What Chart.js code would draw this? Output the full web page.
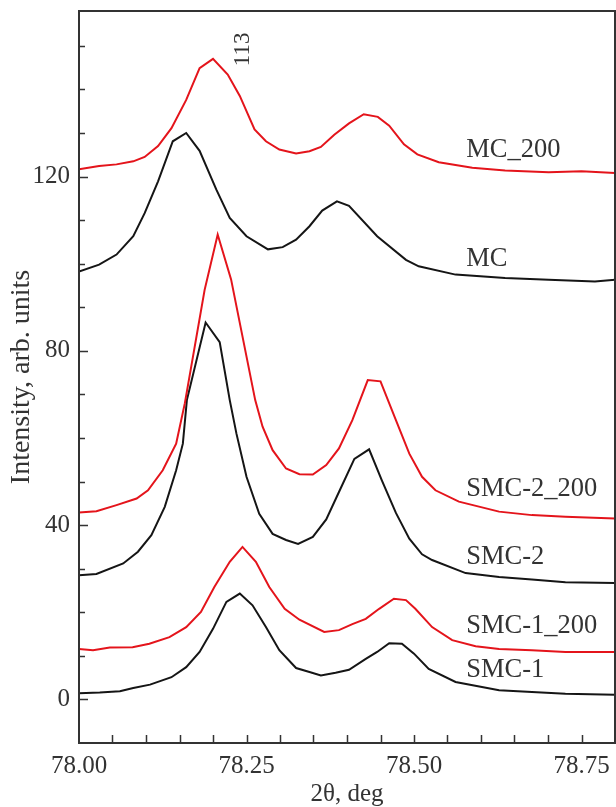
<!DOCTYPE html>
<html>
<head>
<meta charset="utf-8">
<script src="https://cdn.jsdelivr.net/npm/chart.js@4"></script>
<style>
  html, body { margin: 0; padding: 0; background: #fff; }
  canvas { display: block; }
</style>
</head>
<body>
<canvas id="xrdChart" width="616" height="807"></canvas>
<script>
// 2theta / intensity readings for each pattern
const mc200X = [78.00, 78.03, 78.056, 78.081, 78.098, 78.118, 78.138, 78.160, 78.180, 78.200, 78.222, 78.240, 78.262, 78.279, 78.299, 78.324, 78.344, 78.361, 78.381, 78.403, 78.425, 78.446, 78.463, 78.485, 78.505, 78.537, 78.587, 78.636, 78.701, 78.750, 78.80];
const mc200Y = [121.7, 122.4, 122.8, 123.5, 124.5, 127.0, 131.1, 137.6, 144.9, 147.0, 143.4, 138.5, 130.8, 128.1, 126.2, 125.3, 125.8, 126.8, 129.6, 132.2, 134.3, 133.7, 131.7, 127.4, 125.1, 123.3, 122.0, 121.4, 121.0, 121.2, 120.8];

const mcX = [78.00, 78.03, 78.056, 78.081, 78.098, 78.118, 78.140, 78.160, 78.180, 78.205, 78.225, 78.250, 78.282, 78.304, 78.324, 78.344, 78.363, 78.385, 78.403, 78.445, 78.488, 78.507, 78.562, 78.636, 78.701, 78.770, 78.80];
const mcY = [98.2, 99.8, 102.1, 106.3, 111.6, 118.9, 128.1, 130.0, 125.9, 117.0, 110.5, 106.3, 103.3, 103.8, 105.5, 108.6, 112.2, 114.3, 113.3, 106.3, 100.9, 99.4, 97.5, 96.7, 96.3, 95.9, 96.3];

const smc2200X = [78.00, 78.026, 78.056, 78.086, 78.103, 78.125, 78.145, 78.158, 78.1875, 78.207, 78.227, 78.263, 78.274, 78.289, 78.309, 78.329, 78.349, 78.369, 78.388, 78.408, 78.431, 78.450, 78.473, 78.493, 78.512, 78.532, 78.567, 78.627, 78.676, 78.726, 78.80];
const smc2200Y = [42.9, 43.2, 44.6, 46.1, 48.0, 52.6, 58.7, 68.0, 94.0, 106.7, 96.4, 68.7, 62.6, 57.2, 53.0, 51.7, 51.6, 53.8, 57.6, 64.1, 73.3, 73.0, 64.1, 56.4, 51.1, 48.0, 45.4, 43.1, 42.3, 41.9, 41.5];

const smc2X = [78.00, 78.026, 78.066, 78.088, 78.108, 78.128, 78.145, 78.155, 78.161, 78.189, 78.210, 78.225, 78.235, 78.250, 78.269, 78.289, 78.309, 78.327, 78.349, 78.369, 78.388, 78.411, 78.433, 78.452, 78.473, 78.493, 78.512, 78.527, 78.577, 78.627, 78.676, 78.726, 78.80];
const smc2Y = [28.5, 28.8, 31.2, 33.9, 37.7, 44.2, 52.6, 58.7, 68.7, 86.5, 82.0, 68.7, 61.0, 51.1, 42.6, 38.0, 36.6, 35.7, 37.3, 41.3, 47.6, 55.2, 57.4, 50.3, 42.8, 36.9, 33.3, 32.0, 29.0, 28.1, 27.5, 26.9, 26.7];

const smc1200X = [78.00, 78.021, 78.046, 78.080, 78.105, 78.135, 78.160, 78.182, 78.202, 78.225, 78.244, 78.264, 78.284, 78.307, 78.329, 78.366, 78.388, 78.408, 78.428, 78.448, 78.470, 78.488, 78.502, 78.527, 78.557, 78.592, 78.627, 78.676, 78.726, 78.80];
const smc1200Y = [11.6, 11.3, 11.9, 12.0, 12.8, 14.3, 16.6, 20.1, 25.8, 31.6, 35.0, 31.6, 25.8, 20.8, 18.3, 15.5, 15.9, 17.3, 18.5, 20.8, 23.1, 22.8, 20.8, 16.6, 13.6, 12.2, 11.6, 11.3, 10.9, 10.9];

const smc1X = [78.00, 78.031, 78.061, 78.081, 78.106, 78.138, 78.160, 78.180, 78.200, 78.220, 78.240, 78.259, 78.279, 78.299, 78.324, 78.344, 78.361, 78.383, 78.403, 78.428, 78.445, 78.463, 78.482, 78.500, 78.522, 78.562, 78.627, 78.676, 78.726, 78.80];
const smc1Y = [1.4, 1.6, 1.9, 2.6, 3.4, 5.1, 7.4, 10.9, 16.2, 22.4, 24.3, 21.6, 16.6, 11.3, 7.2, 6.3, 5.5, 6.1, 6.8, 9.3, 10.9, 12.9, 12.8, 10.5, 7.0, 4.0, 2.1, 1.7, 1.3, 1.1];

// curve labels (left edge x, baseline y in data units)
const seriesNames = ["MC_200", "MC", "SMC-2_200", "SMC-2", "SMC-1_200", "SMC-1"];
const labelX = 78.578;
const labelY = [124.5, 99.5, 46.7, 31.0, 15.2, 5.1];
const peakLabel = { text: "113", x: 78.244, y: 149.2 };

const RED = "#e4141b";
const BLACK = "#151515";
const INK = "#333333";
const FONT = "'Liberation Serif', 'Times New Roman', serif";

function toPoints(xs, ys) {
  return xs.map((x, i) => ({ x, y: ys[i] }));
}

function lineDataset(label, xs, ys, color) {
  return {
    label,
    data: toPoints(xs, ys),
    borderColor: color,
    backgroundColor: color,
    borderWidth: 2,
    pointRadius: 0,
    showLine: true,
    fill: false,
    tension: 0,
  };
}

const isMultiple = (v, step) => Math.abs(v / step - Math.round(v / step)) < 1e-6;

// frame box + inward tick marks + curve labels
const framePlugin = {
  id: "frame",
  afterDraw(chart) {
    const { ctx, chartArea: a, scales } = chart;
    const xs = scales.x, ys = scales.y;
    ctx.save();
    ctx.strokeStyle = INK;
    ctx.lineWidth = 2;
    ctx.strokeRect(a.left, a.top, a.right - a.left, a.bottom - a.top);

    ctx.lineWidth = 1.5;
    ctx.beginPath();
    xs.ticks.forEach((t) => {
      const px = Math.round(xs.getPixelForValue(t.value)) + 0.5;
      if (px <= a.left + 1 || px >= a.right - 1) return;
      ctx.moveTo(px, a.bottom);
      ctx.lineTo(px, a.bottom - 8);
    });
    ys.ticks.forEach((t) => {
      const py = Math.round(ys.getPixelForValue(t.value)) + 0.5;
      if (py <= a.top + 1 || py >= a.bottom - 1) return;
      const len = isMultiple(t.value, 40) ? 9 : 6;
      ctx.moveTo(a.left, py);
      ctx.lineTo(a.left + len, py);
    });
    ctx.stroke();

    ctx.fillStyle = INK;
    ctx.font = "26.5px " + FONT;
    ctx.textAlign = "left";
    ctx.textBaseline = "alphabetic";
    seriesNames.forEach((name, i) => {
      ctx.fillText(name, xs.getPixelForValue(labelX), ys.getPixelForValue(labelY[i]));
    });

    ctx.translate(xs.getPixelForValue(peakLabel.x), ys.getPixelForValue(peakLabel.y));
    ctx.rotate(-Math.PI / 2);
    ctx.textAlign = "center";
    ctx.textBaseline = "middle";
    ctx.font = "23px " + FONT;
    ctx.fillText(peakLabel.text, 0, 0);
    ctx.restore();
  },
};

const ctx = document.getElementById("xrdChart").getContext("2d");

new Chart(ctx, {
  type: "scatter",
  data: {
    datasets: [
      lineDataset("MC_200", mc200X, mc200Y, RED),
      lineDataset("MC", mcX, mcY, BLACK),
      lineDataset("SMC-2_200", smc2200X, smc2200Y, RED),
      lineDataset("SMC-2", smc2X, smc2Y, BLACK),
      lineDataset("SMC-1_200", smc1200X, smc1200Y, RED),
      lineDataset("SMC-1", smc1X, smc1Y, BLACK),
    ],
  },
  options: {
    responsive: false,
    animation: false,
    layout: { padding: { top: 11, right: 1, left: 0, bottom: 0 } },
    plugins: {
      legend: { display: false },
      tooltip: { enabled: false },
    },
    scales: {
      x: {
        type: "linear",
        min: 78,
        max: 78.8,
        afterFit: (scale) => {
          scale.height = 64;
          scale.paddingLeft = 0;
          scale.paddingRight = 0;
        },
        grid: { display: false, drawTicks: false },
        border: { display: false },
        ticks: {
          stepSize: 0.05,
          autoSkip: false,
          maxRotation: 0,
          includeBounds: false,
          padding: 8,
          color: INK,
          font: { family: FONT, size: 25 },
          callback: (v) => (isMultiple(v, 0.25) ? Number(v).toFixed(2) : ""),
        },
        title: {
          display: true,
          text: "2θ, deg",
          color: INK,
          font: { family: FONT, size: 25, lineHeight: 1 },
          padding: { top: 0, bottom: 0 },
        },
      },
      y: {
        type: "linear",
        min: -10,
        max: 158,
        afterFit: (scale) => {
          scale.width = 79;
          scale.paddingTop = 0;
          scale.paddingBottom = 0;
        },
        grid: { display: false, drawTicks: false },
        border: { display: false },
        ticks: {
          stepSize: 10,
          autoSkip: false,
          includeBounds: false,
          padding: 9,
          color: INK,
          font: { family: FONT, size: 25 },
          callback: (v) => (isMultiple(v, 40) ? String(v) : ""),
        },
        title: {
          display: true,
          text: "Intensity, arb. units",
          color: INK,
          font: { family: FONT, size: 28, lineHeight: 1 },
          padding: { top: 8, bottom: 0 },
        },
      },
    },
  },
  plugins: [framePlugin],
});
</script>
</body>
</html>
